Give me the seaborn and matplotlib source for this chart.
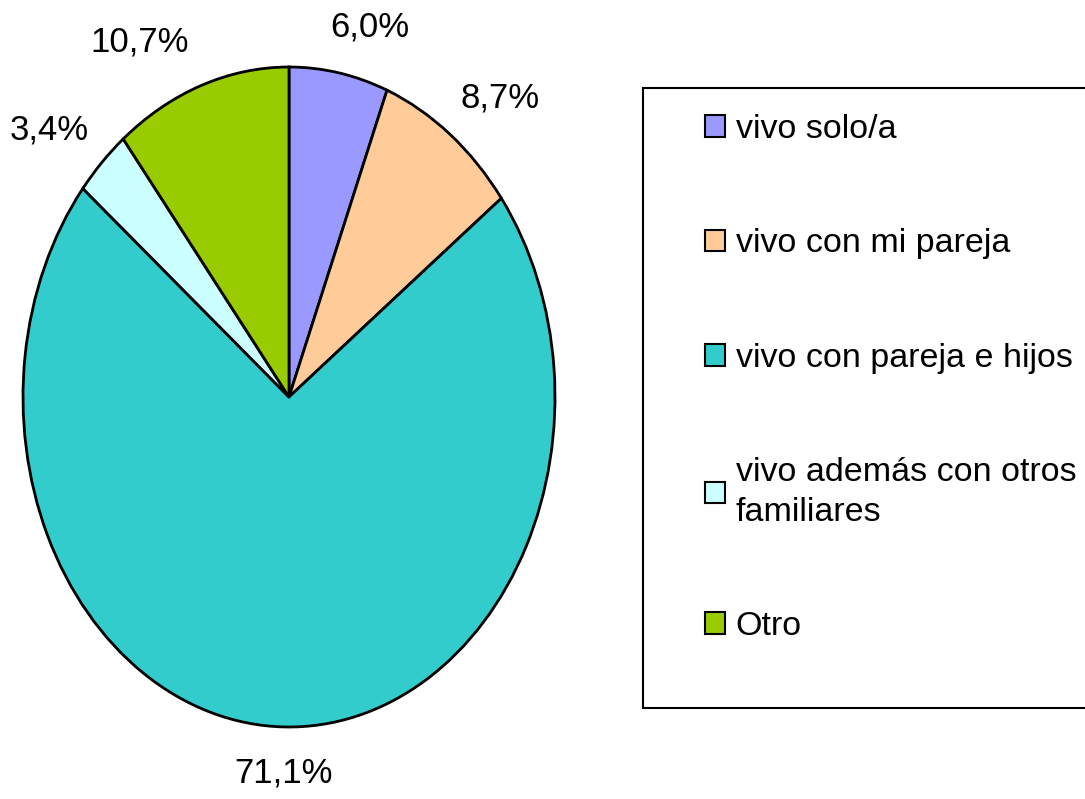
import matplotlib
matplotlib.use("Agg")
import matplotlib.pyplot as plt
from matplotlib.patches import Patch, Rectangle
import seaborn as sns

# data
categories = ["vivo solo/a", "vivo con mi pareja", "vivo con pareja e hijos",
              "vivo además con otros\nfamiliares", "Otro"]
values = [6.0, 8.7, 71.1, 3.4, 10.7]
pct_labels = ["6,0%", "8,7%", "71,1%", "3,4%", "10,7%"]
colors = ["#9999FF", "#FFCC99", "#33CCCC", "#CCFFFF", "#99CC00"]

sns.set_theme(style="white")
plt.rcParams['font.family'] = ['Liberation Sans', 'DejaVu Sans']
plt.rcParams['text.color'] = 'black'

fig = plt.figure(figsize=(10.85, 7.99), dpi=100)
fig.patch.set_facecolor("white")

# pie is stretched vertically in the original, so use a non-square axes
ax = fig.add_axes([23 / 1085, 72 / 799, 532 / 1085, 660 / 799])
wedges, texts = ax.pie(values, colors=sns.color_palette(colors), labels=pct_labels,
                       startangle=90, counterclock=False, labeldistance=1.14,
                       wedgeprops=dict(edgecolor="black", linewidth=2),
                       textprops=dict(fontsize=25, color="black"))
ax.set_aspect("auto")
ax.set_xlim(-1, 1)
ax.set_ylim(-1, 1)
ax.axis("off")

# small nudges so the labels sit like in the original
texts[2].set_ha("center")
nudges = [-0.06, -0.045, 0.0, 0.05, 0.0]
for t, dx in zip(texts, nudges):
    x, y = t.get_position()
    t.set_position((x + dx, y))

# legend frame (runs off the right edge like the original)
fig.patches.append(Rectangle((643 / 1085, 1 - 708 / 799), 460 / 1085, 620 / 799,
                             transform=fig.transFigure, facecolor="white",
                             edgecolor="black", linewidth=1.5, zorder=0))

handles = [Patch(facecolor=c, edgecolor="black", linewidth=1.5) for c in colors]
leg = fig.legend(handles, categories, loc="upper left",
                 bbox_to_anchor=(705 / 1085, 1 - 114 / 799),
                 fontsize=24.5, frameon=False, handlelength=0.6, handleheight=0.6,
                 handletextpad=0.3, labelspacing=2.45, borderpad=0,
                 borderaxespad=0)
for t in leg.get_texts():
    t.set_color("black")
    t.set_linespacing(1.35)

fig.savefig("out.png", dpi=100, facecolor="white")
